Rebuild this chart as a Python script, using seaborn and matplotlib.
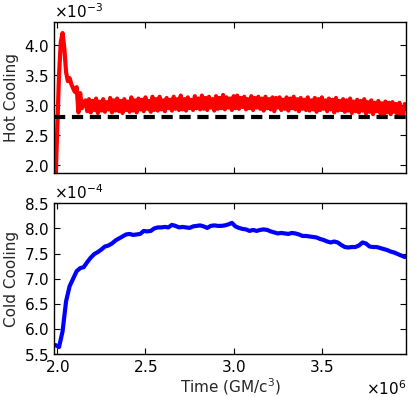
import numpy as np
import matplotlib
matplotlib.use("Agg")
import matplotlib.pyplot as plt
import seaborn as sns

# hot cooling (x1e-3), sampled every 0.01e6 from t=1.99e6
hot_t0 = 1.99e6
hot_dt = 0.01e6
hot_cooling = [
    1.70, 2.60, 3.50, 4.05, 4.20, 3.95, 3.55, 3.40, 3.45, 3.35,
    3.28, 3.22, 3.30, 2.88, 3.20, 2.95, 3.05,
    3.08, 2.90, 3.10, 2.88, 3.07, 2.92, 3.11, 2.87, 3.06, 2.91,
    3.10, 2.89, 3.05, 2.93, 3.12, 2.88, 3.08, 2.91, 3.11, 2.90,
    3.07, 2.87, 3.10, 2.92, 3.06, 2.89, 3.13, 2.91, 3.08, 2.88,
    3.11, 2.93, 3.09, 2.90, 3.13, 2.94, 3.07, 2.89, 3.14, 2.92,
    3.10, 2.91, 3.14, 2.93, 3.08, 2.90, 3.12, 2.95, 3.09, 2.91,
    3.14, 2.94, 3.10, 2.92, 3.16, 2.93, 3.10, 2.91, 3.13, 2.95,
    3.09, 2.92, 3.15, 2.95, 3.11, 2.93, 3.16, 2.94, 3.12, 2.92,
    3.14, 2.96, 3.10, 2.91, 3.15, 2.94, 3.12, 2.95, 3.17, 2.93,
    3.13, 2.96, 3.11, 2.92, 3.15, 2.95, 3.16, 2.94, 3.12, 2.97,
    3.14, 2.93, 3.10, 2.95, 3.15, 2.92, 3.12, 2.96, 3.14, 2.94,
    3.11, 2.91, 3.14, 2.95, 3.10, 2.93, 3.13, 2.90, 3.12, 2.96,
    3.13, 2.92, 3.09, 2.94, 3.13, 2.91, 3.11, 2.95, 3.14, 2.93,
    3.10, 2.90, 3.12, 2.94, 3.09, 2.92, 3.13, 2.91, 3.08, 2.93,
    3.12, 2.89, 3.10, 2.92, 3.13, 2.94, 3.08, 2.90, 3.11, 2.93,
    3.09, 2.88, 3.12, 2.91, 3.07, 2.92, 3.10, 2.89, 3.08, 2.91,
    3.11, 2.87, 3.06, 2.90, 3.09, 2.88, 3.07, 2.91, 3.10, 2.86,
    3.05, 2.89, 3.08, 2.85, 3.04, 2.90, 3.07, 2.87, 3.03, 2.84,
    3.06, 2.88, 3.04, 2.85, 3.05, 2.89, 3.02, 2.83, 3.04, 2.87,
    2.82, 3.02,
]
hot_ref = 2.8  # dashed reference level (x1e-3)

# cold cooling (x1e-4), sampled every 0.02e6 from t=1.99e6
cold_t0 = 1.99e6
cold_dt = 0.02e6
cold_cooling = [
    5.68, 5.64, 5.95, 6.55, 6.85, 7.00, 7.15, 7.21, 7.23, 7.33, 7.42,
    7.49, 7.53, 7.58, 7.64, 7.66, 7.70, 7.76, 7.80, 7.84, 7.88,
    7.89, 7.87, 7.88, 7.89, 7.95, 7.94, 7.95, 8.00, 8.02, 8.02,
    8.03, 8.02, 8.07, 8.05, 8.02, 8.03, 8.02, 8.01, 8.04, 8.05,
    8.06, 8.04, 8.01, 8.05, 8.06, 8.05, 8.05, 8.06, 8.08, 8.11,
    8.04, 8.01, 7.99, 7.98, 7.95, 7.97, 7.95, 7.97, 7.98, 7.97,
    7.94, 7.92, 7.90, 7.91, 7.90, 7.89, 7.91, 7.90, 7.88, 7.85,
    7.85, 7.84, 7.83, 7.82, 7.79, 7.77, 7.74, 7.72, 7.74, 7.72,
    7.67, 7.63, 7.62, 7.63, 7.63, 7.66, 7.72, 7.70, 7.64, 7.63,
    7.63, 7.61, 7.59, 7.57, 7.54, 7.52, 7.49, 7.46, 7.43,
]

hot_t = hot_t0 + hot_dt * np.arange(len(hot_cooling))
cold_t = cold_t0 + cold_dt * np.arange(len(cold_cooling))
hot_y = np.array(hot_cooling) * 1e-3
cold_y = np.array(cold_cooling) * 1e-4

sns.set_style("ticks")
plt.rcParams["font.family"] = ["DejaVu Sans"]
plt.rcParams["font.size"] = 11
plt.rcParams["axes.linewidth"] = 1.0
plt.rcParams["axes.edgecolor"] = "black"

fig = plt.figure(figsize=(4.16, 3.97), dpi=100)
ax1 = fig.add_axes([0.130, 0.564, 0.846, 0.380])
ax2 = fig.add_axes([0.130, 0.108, 0.846, 0.380])

sns.lineplot(x=hot_t, y=hot_y, ax=ax1, color="red", lw=3)
ax1.axhline(hot_ref * 1e-3, color="black", lw=3, ls=(0, (2.7, 1.6)))
ax1.set_ylim(1.87e-3, 4.38e-3)
ax1.set_yticks(np.array([2.0, 2.5, 3.0, 3.5, 4.0]) * 1e-3)
ax1.set_ylabel("Hot Cooling")

sns.lineplot(x=cold_t, y=cold_y, ax=ax2, color="blue", lw=3)
ax2.set_ylim(5.5e-4, 8.5e-4)
ax2.set_yticks(np.array([5.5, 6.0, 6.5, 7.0, 7.5, 8.0, 8.5]) * 1e-4)
ax2.set_ylabel("Cold Cooling")
ax2.set_xlabel("Time (GM/c$^3$)", labelpad=1)

for ax in (ax1, ax2):
    ax.set_xlim(1.982e6, 3.977e6)
    ax.set_xticks(np.array([2.0, 2.5, 3.0, 3.5]) * 1e6)
    ax.ticklabel_format(style="sci", scilimits=(0, 0), useMathText=True)
    ax.tick_params(which="both", direction="in", top=True, right=True,
                   length=4, colors="black", labelsize=11)
    ax.yaxis.set_label_coords(-0.1, 0.5)

ax1.tick_params(labelbottom=False)
ax1.xaxis.get_offset_text().set_visible(False)

fig.savefig("out.png", dpi=100)
